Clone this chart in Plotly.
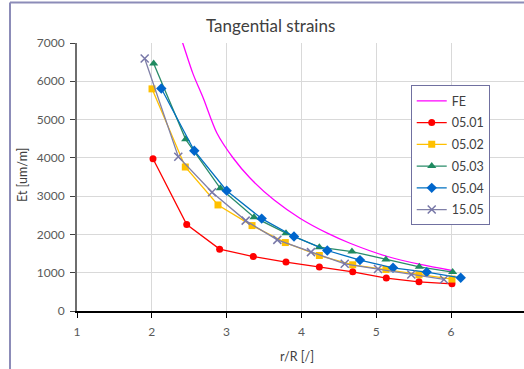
import plotly.graph_objects as go

# ---- data ----
fe_x = [2.35, 2.413, 2.55, 2.69, 2.87, 3.09, 3.31, 3.64, 3.98, 4.34, 4.65, 5.14, 5.59, 6.01]
fe_y = [7350, 7000, 6200, 5550, 4650, 3990, 3480, 2890, 2424, 2040, 1770, 1430, 1215, 1058]

x_0501 = [2.016, 2.467, 2.907, 3.357, 3.794, 4.24, 4.686, 5.135, 5.572, 6.013]
y_0501 = [3977, 2257, 1616, 1423, 1277, 1147, 1024, 860, 763, 711]

x_0502 = [2.003, 2.448, 2.885, 3.34, 3.785, 4.24, 4.686, 5.13, 5.572, 6.013]
y_0502 = [5802, 3761, 2770, 2231, 1788, 1449, 1207, 1085, 946, 834]

x_0503 = [2.025, 2.453, 2.916, 3.366, 3.794, 4.24, 4.676, 5.13, 5.576, 6.022]
y_0503 = [6463, 4483, 3205, 2450, 2033, 1668, 1553, 1345, 1155, 1016]

x_0504 = [2.127, 2.568, 3.001, 3.469, 3.901, 4.346, 4.783, 5.225, 5.675, 6.13]
y_0504 = [5812, 4186, 3143, 2413, 1945, 1580, 1329, 1129, 1016, 868]

x_1505 = [1.905, 2.354, 2.805, 3.255, 3.678, 4.128, 4.579, 5.024, 5.469, 5.906]
y_1505 = [6594, 4030, 3101, 2361, 1858, 1538, 1233, 1095, 954, 824]

series_names = ["FE", "05.01", "05.02", "05.03", "05.04", "15.05"]
x_ticks = [1, 2, 3, 4, 5, 6, 7]
y_ticks = [0, 1000, 2000, 3000, 4000, 5000, 6000, 7000]

FONT = "Lato"
TXT = "#404040"

fig = go.Figure()
fig.add_trace(go.Scatter(x=fe_x, y=fe_y, name=series_names[0], mode="lines",
                         legendgroup="g0",
                         line=dict(color="#ff00ff", width=1.3, shape="spline", smoothing=0.8)))
fig.add_trace(go.Scatter(x=x_0501, y=y_0501, name=series_names[1], mode="lines+markers",
                         legendgroup="g1",
                         line=dict(color="#ff0000", width=1.3),
                         marker=dict(symbol="circle", size=7, color="#ff0000")))
fig.add_trace(go.Scatter(x=x_0502, y=y_0502, name=series_names[2], mode="lines+markers",
                         legendgroup="g2",
                         line=dict(color="#ffc000", width=1.3),
                         marker=dict(symbol="square", size=7, color="#ffc000")))
fig.add_trace(go.Scatter(x=x_0503, y=y_0503, name=series_names[3], mode="lines+markers",
                         legendgroup="g3",
                         line=dict(color="#2a8c6a", width=1.3),
                         marker=dict(symbol="triangle-up", size=8, color="#1f8a60")))
fig.add_trace(go.Scatter(x=x_0504, y=y_0504, name=series_names[4], mode="lines+markers",
                         legendgroup="g4",
                         line=dict(color="#0070c0", width=1.3),
                         marker=dict(symbol="diamond", size=8, color="#0066cc")))
fig.add_trace(go.Scatter(x=x_1505, y=y_1505, name=series_names[5], mode="lines+markers",
                         legendgroup="g5",
                         line=dict(color="#8080a8", width=1.3),
                         marker=dict(symbol="x-thin-open", size=8, color="#7878a8",
                                     line=dict(color="#7878a8", width=1.5))))

fig.update_layout(
    width=524, height=369,
    margin=dict(l=77, r=0, t=42.7, b=57.7),
    paper_bgcolor="white", plot_bgcolor="white",
    font=dict(family=FONT, size=12, color=TXT),
    showlegend=True,
    legend=dict(x=0.7466, y=0.8425, xanchor="left", yanchor="top",
                bgcolor="white", bordercolor="#7070a0", borderwidth=1,
                font=dict(family=FONT, size=12.5, color=TXT),
                itemwidth=30, tracegroupgap=2.5),
)

fig.update_xaxes(range=[1, 6.976], tickvals=x_ticks, showgrid=True,
                 gridcolor="#d9d9d9", gridwidth=1.3, showline=True,
                 linecolor="black", linewidth=1.5, ticks="outside", ticklen=5,
                 tickcolor="black", zeroline=False,
                 tickfont=dict(family=FONT, size=12, color="#595959"),
                 ticklabelstandoff=4)
fig.update_yaxes(range=[0, 7000], tickvals=y_ticks, showgrid=True,
                 gridcolor="#d9d9d9", gridwidth=1.3, showline=True,
                 linecolor="#6e6e6e", linewidth=2, ticks="outside", ticklen=5,
                 tickcolor="#404040", zeroline=False,
                 tickfont=dict(family=FONT, size=12, color="#595959"),
                 ticklabelstandoff=3)

fig.add_annotation(text="Tangential strains", xref="paper", yref="paper",
                   x=(270 - 77) / 447, y=(311.3 - 25) / 268.6,
                   xanchor="center", yanchor="middle", showarrow=False,
                   font=dict(family=FONT, size=17, color=TXT))
fig.add_annotation(text="Et [um/m]", xref="paper", yref="paper",
                   x=(22 - 77) / 447, y=(311.3 - 175) / 268.6, textangle=-90,
                   xanchor="center", yanchor="middle", showarrow=False,
                   font=dict(family=FONT, size=12.5, color=TXT))
fig.add_annotation(text="r/R [/]", xref="paper", yref="paper",
                   x=(297 - 77) / 447, y=(311.3 - 357) / 268.6,
                   xanchor="center", yanchor="middle", showarrow=False,
                   font=dict(family=FONT, size=12.5, color=TXT))

# outer chart border (left and top visible)
bx = (10 - 77) / 447
by = (311.3 - 2) / 268.6
byb = (311.3 - 372) / 268.6
fig.add_shape(type="line", xref="paper", yref="paper", x0=bx, x1=bx, y0=byb, y1=by,
              line=dict(color="#8c8cb8", width=2))
fig.add_shape(type="line", xref="paper", yref="paper", x0=bx, x1=1.05, y0=by, y1=by,
              line=dict(color="#8c8cb8", width=2))

fig.write_html("out.html")
